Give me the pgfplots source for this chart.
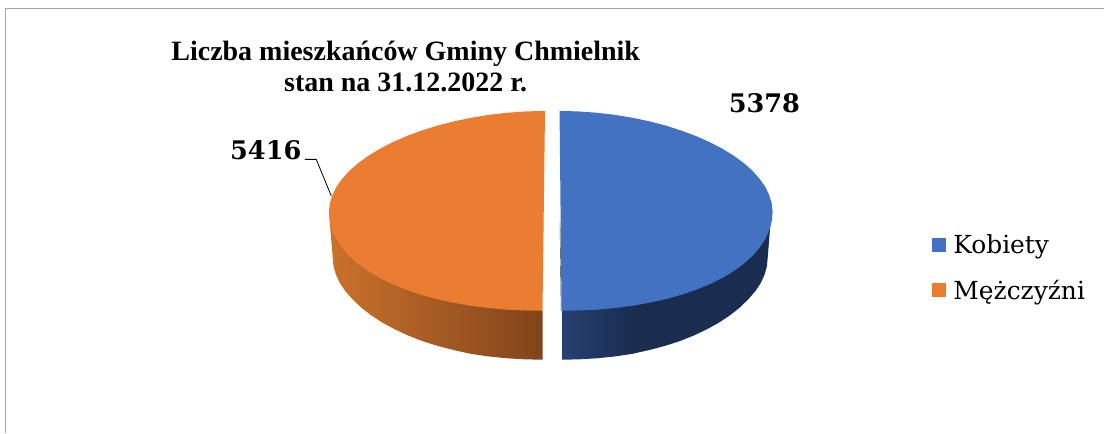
\documentclass[border=0pt]{standalone}
\usepackage{fontspec}
\setmainfont{Liberation Serif}
\newfontfamily\legfont{DejaVu Serif}
\usepackage{pgfplots}
\usepackage{pgfplotstable}
\pgfplotsset{compat=1.18}
\definecolor{pieblue}{HTML}{4472C2}
\definecolor{pieorange}{HTML}{EB7D32}
\definecolor{framegray}{HTML}{A6A6A6}
\definecolor{oL}{HTML}{CB722B}
\definecolor{oR}{HTML}{80441B}
\definecolor{bL}{HTML}{254070}
\definecolor{bR}{HTML}{1A2D50}
\pgfdeclarehorizontalshading{orangeside}{100bp}{color(0bp)=(oL);color(25bp)=(oL);color(75bp)=(oR);color(100bp)=(oR)}
\pgfdeclarehorizontalshading{blueside}{100bp}{color(0bp)=(bL);color(25bp)=(bL);color(42bp)=(bR);color(75bp)=(bR);color(100bp)=(bR)}
\pgfplotstableread{
dx dy
0 -100
18.7 -99.5
37.3 -98.2
55.6 -96.1
73.5 -93.2
90.9 -89.6
107.5 -85.3
123.3 -80.3
138.2 -74.8
152.0 -68.7
164.7 -62.2
176.1 -55.2
186.2 -47.9
194.9 -40.2
202.0 -32.2
207.7 -24.2
211.7 -15.9
214.2 -7.5
215 1
214.2 9.9
211.7 18.9
207.7 27.6
202.0 36.2
194.9 44.4
186.2 52.1
176.1 59.6
164.7 66.5
152.0 72.7
138.2 78.4
123.3 83.5
107.5 87.9
90.9 91.6
73.5 94.8
55.6 97.1
37.3 98.8
18.7 99.7
0 100
}\topArc
\pgfplotstableread{
dx dy
213.8 -50
210 -4
209.2 4.5
206.8 13
202.8 21.4
197.3 29.5
190.3 37.4
181.9 45.5
172.0 53.2
160.9 60.5
148.5 67.3
135.0 73.6
120.5 79.3
105 84.2
88.7 88.4
71.8 92.1
54.4 94.7
36.5 96.5
18.3 97.6
0 98
0 49
}\sideArc
\begin{document}
\begin{tikzpicture}
\begin{axis}[
  scale only axis, width=1105bp, height=433bp,
  xmin=0, xmax=1105, ymin=0, ymax=433, y dir=reverse,
  hide axis, clip=false,
  legend style={at={(axis cs:933,233)}, anchor=north west, draw=none, fill=none,
    font=\legfont\fontsize{25}{28}\selectfont, row sep=20.5bp,
    inner xsep=0pt, inner ysep=0pt,
    /tikz/every even column/.append style={column sep=0bp},
    /tikz/every odd column/.append style={column sep=5bp}},
  legend cell align=left,
  legend image code/.code={\fill[#1] (0bp,-7bp) rectangle (14bp,7bp);},
]
\path (axis cs:0,0) rectangle (axis cs:1105,433);
% frame
\addplot[framegray, line width=1.8bp, forget plot] coordinates {(5.5,433) (5.5,8.5) (1105,8.5)};
% side bands
\addplot[shading=orangeside, draw=none, forget plot] table[x expr=543-\thisrow{dx}, y expr=262+\thisrow{dy}] {\sideArc};
\addplot[shading=blueside, draw=none, forget plot] table[x expr=562.5+0.98*\thisrow{dx}, y expr=262+\thisrow{dy}] {\sideArc};
% top faces
\addplot[fill=pieblue, draw=none] table[x expr=561+0.987*\thisrow{dx}+0.01*\thisrow{dy}, y expr=211+\thisrow{dy}] {\topArc};
\addlegendentry{Kobiety}
\addplot[fill=pieorange, draw=none] table[x expr=544.2-\thisrow{dx}-0.0125*\thisrow{dy}, y expr=211+\thisrow{dy}] {\topArc};
\addlegendentry{Mężczyźni}
% inner sliver and leader line
\addplot[bR, line width=0.4bp, forget plot] coordinates {(560.4,222) (561.6,311)};
\addplot[black, line width=0.8bp, forget plot] coordinates {(305,159.5) (316.5,159.5) (331.5,196)};
\node[anchor=base, font=\bfseries\fontsize{28.1}{31}\selectfont] at (axis cs:406,61) {Liczba mieszkańców Gminy Chmielnik};
\node[anchor=base, font=\bfseries\fontsize{28.1}{31}\selectfont] at (axis cs:406,92) {stan na 31.12.2022 r.};
\node[anchor=base, font=\legfont\bfseries\fontsize{25.7}{30}\selectfont] at (axis cs:765,113) {5378};
\node[anchor=base, font=\legfont\bfseries\fontsize{25.7}{30}\selectfont] at (axis cs:266,160) {5416};
\end{axis}
\end{tikzpicture}
\end{document}
